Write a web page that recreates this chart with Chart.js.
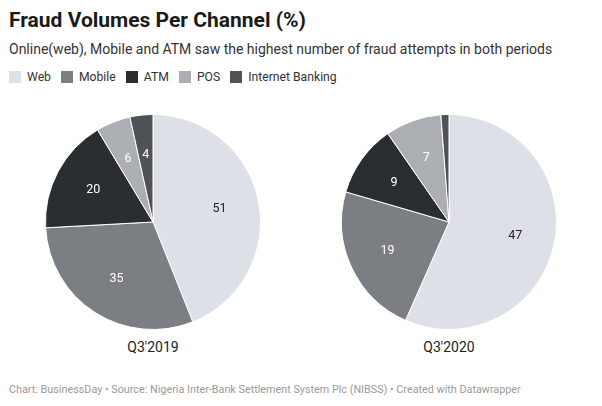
<!DOCTYPE html>
<html>
<head>
<meta charset="utf-8">
<script src="https://cdn.jsdelivr.net/npm/chart.js@4"></script>
<style>
  body { margin: 0; width: 602px; height: 406px; background: #fff; font-family: Roboto, sans-serif; position: relative; overflow: hidden; }
  .title { position: absolute; left: 9px; top: 8px; font-size: 21px; font-weight: 700; color: #1a1a1a; }
  .subtitle { position: absolute; left: 9px; top: 41px; font-size: 14px; color: #333; }
  .legend { position: absolute; left: 9px; top: 70px; font-size: 12.2px; color: #333; display: flex; }
  .legend span { display: flex; align-items: center; margin-right: 10px; }
  .legend i { display: inline-block; width: 12px; height: 12px; margin-right: 6px; }
  .pie { position: absolute; top: 112px; }
  .period { position: absolute; top: 339px; width: 220px; text-align: center; font-size: 14px; color: #222; }
  .footer { position: absolute; left: 9px; top: 383px; font-size: 10.8px; color: #9a9a9a; }
</style>
</head>
<body>
<div class="title">Fraud Volumes Per Channel (%)</div>
<div class="subtitle">Online(web), Mobile and ATM saw the highest number of fraud attempts in both periods</div>
<div class="legend" id="legend"></div>
<canvas id="pie2019" class="pie" width="220" height="220" style="left:43px"></canvas>
<canvas id="pie2020" class="pie" width="220" height="220" style="left:339px"></canvas>
<div class="period" style="left:43px">Q3'2019</div>
<div class="period" style="left:339px">Q3'2020</div>
<div class="footer">Chart: BusinessDay • Source: Nigeria Inter-Bank Settlement System Plc (NIBSS) • Created with Datawrapper</div>
<script>
// Data
const channels = ['Web', 'Mobile', 'ATM', 'POS', 'Internet Banking'];
const q3_2019 = [51, 35, 20, 6, 4];
const q3_2020 = [47, 19, 9, 7, 1];
const colors = ['#dde1e7', '#7b7f84', '#2a2e31', '#abafb4', '#4f5358'];
const labelColors = ['#222', '#fff', '#fff', '#fff', '#fff'];

// Legend
const legend = document.getElementById('legend');
channels.forEach((c, i) => {
  const item = document.createElement('span');
  item.innerHTML = '<i style="background:' + colors[i] + '"></i>' + c;
  legend.appendChild(item);
});

// value labels inside slices
const sliceLabels = {
  id: 'sliceLabels',
  afterDatasetsDraw(chart) {
    const ctx = chart.ctx;
    const meta = chart.getDatasetMeta(0);
    const values = chart.data.datasets[0].data;
    ctx.save();
    ctx.font = '12.5px Roboto, sans-serif';
    ctx.textAlign = 'center';
    ctx.textBaseline = 'middle';
    meta.data.forEach((arc, i) => {
      const p = arc.getProps(['x', 'y', 'startAngle', 'endAngle', 'outerRadius'], true);
      if (p.endAngle - p.startAngle < 0.12) return;
      const mid = (p.startAngle + p.endAngle) / 2;
      const r = p.outerRadius * 0.63;
      ctx.fillStyle = labelColors[i];
      ctx.fillText(values[i], p.x + Math.cos(mid) * r, p.y + Math.sin(mid) * r);
    });
    ctx.restore();
  }
};

function makePie(id, values) {
  new Chart(document.getElementById(id), {
    type: 'pie',
    data: {
      labels: channels,
      datasets: [{
        data: values,
        backgroundColor: colors,
        borderColor: '#fff',
        borderWidth: 1
      }]
    },
    options: {
      responsive: false,
      animation: false,
      layout: { padding: 2 },
      plugins: {
        legend: { display: false },
        tooltip: { enabled: false }
      }
    },
    plugins: [sliceLabels]
  });
}

makePie('pie2019', q3_2019);
makePie('pie2020', q3_2020);
</script>
</body>
</html>
